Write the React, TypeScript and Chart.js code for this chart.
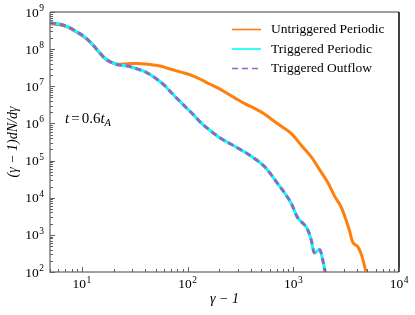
import React, { useEffect, useRef } from "react";
import { Chart, registerables } from "chart.js";

Chart.register(...registerables);

// ---- data (gamma - 1, (gamma - 1) dN/dgamma) ----
const untrigGamma = [5.0, 6.0, 7.4, 8.9, 10.7, 12.6, 14.5, 16.6, 19.1, 21.9, 25.7, 29.5, 33.9, 39.8, 45.7, 55, 66, 79, 95, 115, 136, 162, 195, 234, 282, 355, 447, 537, 646, 794, 955, 1200, 1480, 1780, 2140, 2450, 2820, 3090, 3390, 3630, 4070, 4370, 4570, 4900, 5250];
const untrigValues = [4.8e8, 4.6e8, 3.9e8, 2.9e8, 2.05e8, 1.33e8, 8.4e7, 5.6e7, 4.4e7, 3.9e7, 4.0e7, 4.1e7, 4.1e7, 4.0e7, 3.8e7, 3.5e7, 3.0e7, 2.6e7, 2.24e7, 1.86e7, 1.48e7, 1.15e7, 8.9e6, 6.6e6, 4.8e6, 3.3e6, 2.4e6, 1.78e6, 1.2e6, 7.9e5, 5.4e5, 2.5e5, 1.26e5, 5.6e4, 2.45e4, 1.12e4, 5.8e3, 3.0e3, 1.35e3, 660, 480, 316, 209, 91, 32];

const trigGamma = [5.0, 6.0, 7.4, 8.9, 10.7, 12.6, 14.5, 16.6, 19.1, 21.9, 25.7, 29.5, 33.9, 39.8, 45.7, 52.5, 61.7, 70.8, 81.3, 95.5, 115, 136, 162, 195, 234, 282, 324, 372, 447, 537, 617, 708, 832, 955, 1100, 1200, 1320, 1410, 1480, 1580, 1780, 1900, 2000, 2040];
const trigValues = [5.1e8, 4.8e8, 4.0e8, 2.95e8, 2.1e8, 1.35e8, 8.5e7, 5.6e7, 4.4e7, 3.8e7, 3.6e7, 3.3e7, 2.9e7, 2.45e7, 1.95e7, 1.48e7, 1.0e7, 6.6e6, 4.4e6, 2.8e6, 1.66e6, 1.0e6, 6.6e5, 4.4e5, 3.2e5, 2.4e5, 1.9e5, 1.5e5, 1.05e5, 6.8e4, 4.2e4, 2.45e4, 1.32e4, 7.1e3, 2.9e3, 2.2e3, 1.66e3, 1.12e3, 720, 330, 400, 209, 91, 40];

const outflowGamma = [5.0, 6.0, 7.4, 8.9, 10.7, 12.6, 14.5, 16.6, 19.1, 21.9, 25.7, 29.5, 33.9, 39.8, 45.7, 52.5, 61.7, 70.8, 81.3, 95.5, 115, 136, 162, 195, 234, 282, 324, 372, 447, 537, 617, 708, 832, 955, 1100, 1200, 1320, 1410, 1480, 1580, 1780, 1900, 2000, 2040];
const outflowValues = [5.1e8, 4.8e8, 4.0e8, 2.95e8, 2.1e8, 1.35e8, 8.5e7, 5.6e7, 4.4e7, 3.8e7, 3.6e7, 3.3e7, 2.9e7, 2.45e7, 1.95e7, 1.48e7, 1.0e7, 6.6e6, 4.4e6, 2.8e6, 1.66e6, 1.0e6, 6.6e5, 4.4e5, 3.2e5, 2.4e5, 1.9e5, 1.5e5, 1.05e5, 6.8e4, 4.2e4, 2.45e4, 1.32e4, 7.1e3, 2.9e3, 2.2e3, 1.66e3, 1.12e3, 720, 330, 400, 209, 91, 40];

const seriesLabels = ["Untriggered Periodic", "Triggered Periodic", "Triggered Outflow"];
const xTickExponents = [1, 2, 3, 4];
const yTickExponents = [2, 3, 4, 5, 6, 7, 8, 9];
const X_MIN = 5;
const X_MAX = 1e4;
const Y_MIN = 1e2;
const Y_MAX = 1e9;

const SERIF = '"Liberation Serif", "Times New Roman", serif';

function pts(xs: number[], ys: number[]) {
  return xs.map((x, i) => ({ x, y: ys[i] }));
}

function minorTicks(min: number, max: number) {
  const out: { value: number; major: boolean }[] = [];
  for (let e = Math.floor(Math.log10(min)); e <= Math.ceil(Math.log10(max)); e++) {
    for (let m = 1; m <= 9; m++) {
      const v = m * Math.pow(10, e);
      if (v >= min * 0.9999 && v <= max * 1.0001) out.push({ value: v, major: m === 1 });
    }
  }
  return out;
}

function drawPow(ctx: CanvasRenderingContext2D, exp: number, x: number, baseline: number, align: "center" | "right") {
  const baseFont = `13.5px ${SERIF}`;
  const expFont = `9.5px ${SERIF}`;
  ctx.font = baseFont;
  const w1 = ctx.measureText("10").width;
  ctx.font = expFont;
  const w2 = ctx.measureText(String(exp)).width;
  const total = w1 + w2 + 0.5;
  const start = align === "center" ? x - total / 2 : x - total;
  ctx.textAlign = "left";
  ctx.textBaseline = "alphabetic";
  ctx.font = baseFont;
  ctx.fillText("10", start, baseline);
  ctx.font = expFont;
  ctx.fillText(String(exp), start + w1 + 0.5, baseline - 5.5);
}

const decorPlugin = {
  id: "decor",
  afterDatasetsDraw(chart: any) {
    const ctx: CanvasRenderingContext2D = chart.ctx;
    const { left, right, top, bottom } = chart.chartArea;
    const xs = chart.scales.x;
    const ys = chart.scales.y;
    ctx.save();
    // frame
    ctx.lineWidth = 1.5;
    ctx.strokeStyle = "#808080";
    ctx.beginPath();
    ctx.moveTo(left, top);
    ctx.lineTo(right, top);
    ctx.moveTo(left, top);
    ctx.lineTo(left, bottom);
    ctx.lineTo(right, bottom);
    ctx.stroke();
    ctx.strokeStyle = "#000000";
    ctx.beginPath();
    ctx.moveTo(right, top);
    ctx.lineTo(right, bottom);
    ctx.stroke();

    // ticks (inward)
    ctx.strokeStyle = "#606060";
    ctx.lineWidth = 1;
    for (const t of minorTicks(X_MIN, X_MAX)) {
      const px = Math.round(xs.getPixelForValue(t.value)) + 0.5;
      const len = t.major ? 5 : 3;
      ctx.beginPath();
      ctx.moveTo(px, bottom);
      ctx.lineTo(px, bottom - len);
      ctx.stroke();
    }
    for (const t of minorTicks(Y_MIN, Y_MAX)) {
      const py = Math.round(ys.getPixelForValue(t.value)) + 0.5;
      const len = t.major ? 5 : 3;
      ctx.beginPath();
      ctx.moveTo(left, py);
      ctx.lineTo(left + len, py);
      ctx.stroke();
    }

    // tick labels
    ctx.fillStyle = "#000000";
    for (const e of xTickExponents) {
      const px = xs.getPixelForValue(Math.pow(10, e));
      drawPow(ctx, e, px, bottom + 16, "center");
    }
    for (const e of yTickExponents) {
      const py = ys.getPixelForValue(Math.pow(10, e));
      drawPow(ctx, e, left - 6, py + 4.5, "right");
    }

    // axis titles
    ctx.textBaseline = "alphabetic";
    ctx.textAlign = "center";
    ctx.font = `italic 14px ${SERIF}`;
    ctx.fillText("γ − 1", (left + right) / 2, bottom + 31);

    ctx.save();
    ctx.translate(17, (top + bottom) / 2);
    ctx.rotate(-Math.PI / 2);
    ctx.font = `italic 14px ${SERIF}`;
    ctx.textAlign = "center";
    ctx.fillText("(γ − 1)dN/dγ", 0, 0);
    ctx.restore();

    // annotation t = 0.6 t_A
    ctx.textAlign = "left";
    let ax = 65;
    const ab = 123;
    ctx.font = `italic 15px ${SERIF}`;
    ctx.fillText("t", ax, ab);
    ax += ctx.measureText("t").width + 2;
    ctx.font = `15px ${SERIF}`;
    ctx.fillText("=", ax, ab);
    ax += ctx.measureText("=").width + 2;
    ctx.fillText("0.6", ax, ab);
    ax += ctx.measureText("0.6").width;
    ctx.font = `italic 15px ${SERIF}`;
    ctx.fillText("t", ax, ab);
    ax += ctx.measureText("t").width;
    ctx.font = `italic 10.5px ${SERIF}`;
    ctx.fillText("A", ax, ab + 3);

    // legend
    const rows = [29.5, 49, 68.5];
    chart.data.datasets.forEach((ds: any, i: number) => {
      const y = rows[i];
      ctx.strokeStyle = ds.borderColor;
      ctx.lineWidth = 1.6;
      ctx.setLineDash(ds.borderDash || []);
      ctx.beginPath();
      ctx.moveTo(232, y);
      ctx.lineTo(261, y);
      ctx.stroke();
      ctx.setLineDash([]);
      ctx.fillStyle = "#000000";
      ctx.font = `13.5px ${SERIF}`;
      ctx.textBaseline = "middle";
      ctx.fillText(ds.label, 271, y);
    });
    ctx.restore();
  },
};

export default function App() {
  const ref = useRef<HTMLCanvasElement | null>(null);
  useEffect(() => {
    if (!ref.current) return;
    const chart = new Chart(ref.current, {
      type: "line",
      data: {
        datasets: [
          {
            label: seriesLabels[0],
            data: pts(untrigGamma, untrigValues),
            borderColor: "#ff7f0e",
            borderWidth: 3,
            pointRadius: 0,
            cubicInterpolationMode: "monotone",
            order: 3,
            clip: 0,
          },
          {
            label: seriesLabels[1],
            data: pts(trigGamma, trigValues),
            borderColor: "#00ffff",
            borderWidth: 3,
            pointRadius: 0,
            cubicInterpolationMode: "monotone",
            order: 2,
            clip: 0,
          },
          {
            label: seriesLabels[2],
            data: pts(outflowGamma, outflowValues),
            borderColor: "#9467bd",
            borderWidth: 3,
            borderDash: [6, 4],
            pointRadius: 0,
            cubicInterpolationMode: "monotone",
            order: 1,
            clip: 0,
          },
        ] as any,
      },
      options: {
        animation: false,
        responsive: false,
        devicePixelRatio: 1,
        layout: { padding: { top: 12, right: 16, left: 0, bottom: 0 } },
        plugins: { legend: { display: false }, tooltip: { enabled: false } },
        scales: {
          x: {
            type: "logarithmic",
            min: X_MIN,
            max: X_MAX,
            grid: { display: false },
            border: { display: false },
            ticks: { display: false },
            afterFit: (s: any) => {
              s.height = 43;
            },
          },
          y: {
            type: "logarithmic",
            min: Y_MIN,
            max: Y_MAX,
            grid: { display: false },
            border: { display: false },
            ticks: { display: false },
            afterFit: (s: any) => {
              s.width = 50;
            },
          },
        },
      } as any,
      plugins: [decorPlugin],
    });
    return () => chart.destroy();
  }, []);
  return (
    <div style={{ position: "absolute", left: 0, top: 0, width: 415, height: 315, background: "#fff" }}>
      <canvas ref={ref} width={415} height={315} style={{ width: 415, height: 315 }} />
    </div>
  );
}
